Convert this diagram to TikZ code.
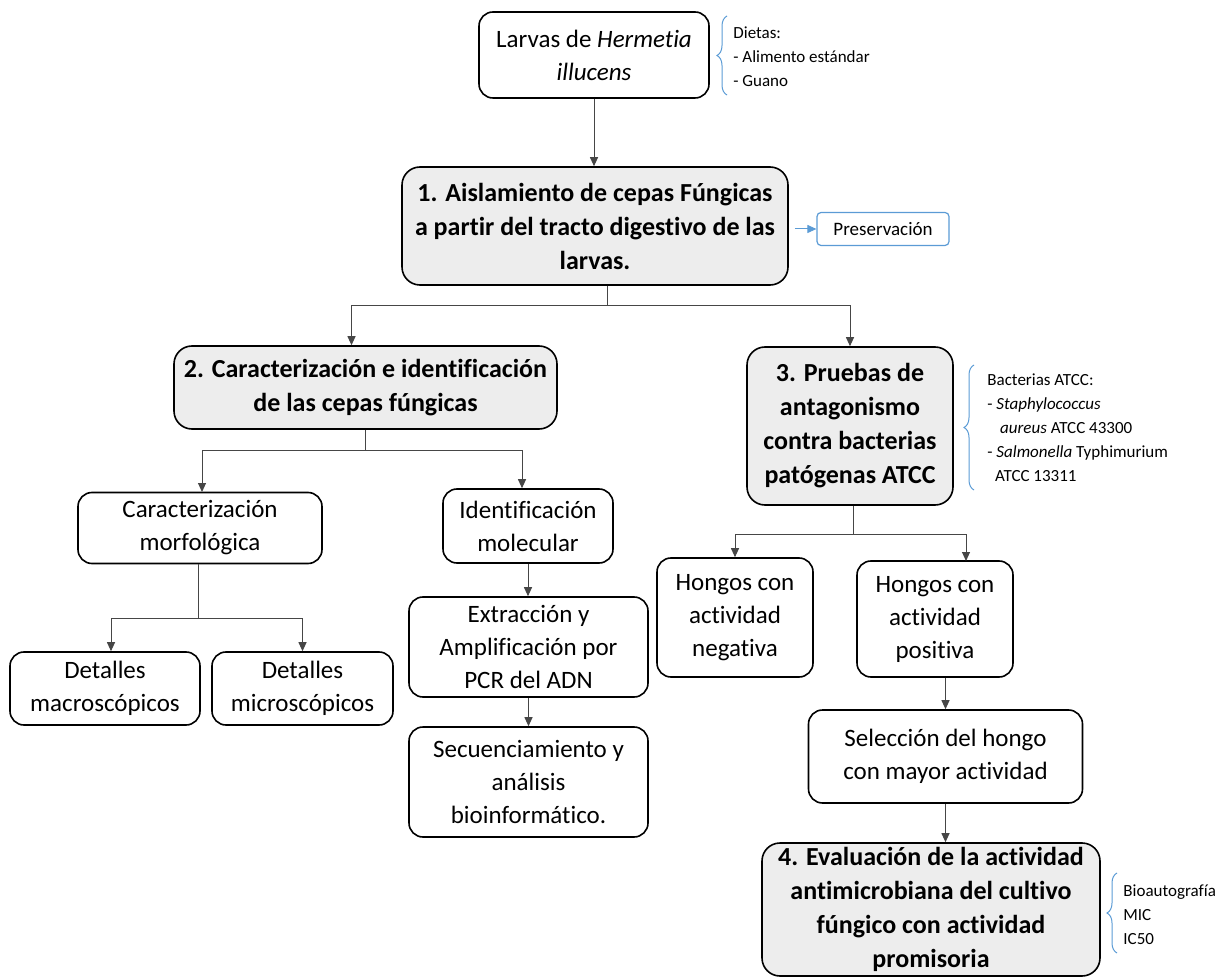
\documentclass[tikz,border=0pt]{standalone}
\usepackage{fontspec}
\setmainfont{Carlito}[Ligatures={NoCommon}]
\usetikzlibrary{arrows.meta,decorations.pathreplacing}
\definecolor{azul}{RGB}{91,155,213}
\definecolor{grisfondo}{RGB}{237,237,237}
\definecolor{linea}{RGB}{70,70,70}
\tikzset{
  caja/.style={draw,line width=0.8pt,rounded corners=7pt,align=center,inner sep=0pt,
    font=\fontsize{12.5}{16.5}\selectfont},
  etapa/.style={caja,fill=grisfondo,rounded corners=9pt,
    font=\fontsize{13}{17}\selectfont\bfseries},
  nota/.style={draw=azul,line width=0.6pt,rounded corners=2pt,inner sep=0pt,
    font=\fontsize{9.5}{11}\selectfont},
  lista/.style={align=left,inner sep=0pt,anchor=west,font=\fontsize{8.5}{12}\selectfont},
  linea/.style={draw=linea,line width=0.5pt},
  flecha/.style={linea,-{Triangle[length=4.5pt,width=4pt]}},
  llave/.style={draw=azul,line width=0.5pt,decorate,decoration={brace,amplitude=5pt}}
}
\begin{document}
\begin{tikzpicture}[x=0.5pt,y=-0.5pt]
\useasboundingbox (0,0) rectangle (1226,978);
% cajas
\node[caja,minimum width=115pt,minimum height=43pt] (larvas) at (594,55) {Larvas de \textit{Hermetia}\\\textit{illucens}};
\node[etapa,minimum width=193pt,minimum height=59pt] (aisl) at (595,226) {1. Aislamiento de cepas Fúngicas\\a partir del tracto digestivo de las\\larvas.};
\node[nota,minimum width=66pt,minimum height=16.5pt] (pres) at (883,229) {Preservación};
\node[etapa,minimum width=191.5pt,minimum height=41.5pt] (carac) at (365.5,387.5) {2. Caracterización e identificación\\de las cepas fúngicas};
\node[etapa,minimum width=103pt,minimum height=79pt] (antag) at (850,426) {3. Pruebas de\\antagonismo\\contra bacterias\\patógenas ATCC};
\node[caja,minimum width=122pt,minimum height=35.5pt] (morfo) at (200,528) {Caracterización\\morfológica};
\node[caja,minimum width=85pt,minimum height=37pt] (molec) at (528,526) {Identificación\\molecular};
\node[caja,minimum width=95pt,minimum height=36.5pt] (macro) at (105,688.5) {Detalles\\macroscópicos};
\node[caja,minimum width=90.5pt,minimum height=36.5pt] (micro) at (302.5,688.5) {Detalles\\microscópicos};
\node[caja,minimum width=119.5pt,minimum height=50pt] (pcr) at (528.5,647) {Extracción y\\Amplificación por\\PCR del ADN};
\node[caja,minimum width=119.5pt,minimum height=55pt] (secu) at (528.5,782) {Secuenciamiento y\\análisis\\bioinformático.};
\node[caja,minimum width=78pt,minimum height=59.5pt] (neg) at (735,617.5) {Hongos con\\actividad\\negativa};
\node[caja,minimum width=78pt,minimum height=58pt] (pos) at (935,619) {Hongos con\\actividad\\positiva};
\node[caja,minimum width=137pt,minimum height=46.5pt] (selec) at (945.5,756.5) {Selección del hongo\\con mayor actividad};
\node[etapa,minimum width=169pt,minimum height=66.5pt] (evalu) at (931,909.5) {4. Evaluación de la actividad\\antimicrobiana del cultivo\\fúngico con actividad\\promisoria};
% notas con llave
\node[lista] (dieta) at (733,57) {Dietas:\\- Alimento estándar\\- Guano};
\draw[llave] (727,95) -- (727,16);
\node[lista] (bact) at (987,428) {Bacterias ATCC:\\- \textit{Staphylococcus}\\\hspace*{0.75em}\textit{aureus} ATCC 43300\\- \textit{Salmonella} Typhimurium\\\hspace*{0.45em}ATCC 13311};
\draw[llave] (974,490) -- (974,365);
\node[lista] (bio) at (1123,915) {Bioautografía\\MIC\\IC50};
\draw[llave] (1117,953) -- (1117,873);
% conectores
\draw[flecha] (larvas.south) -- (larvas.south |- aisl.north);
\draw[flecha,draw=azul] ([xshift=3pt]aisl.east |- pres.west) -- (pres.west);
\coordinate (j1) at (607,306);
\draw[linea] (j1 |- aisl.south) -- (j1);
\draw[flecha] (j1) -| ([xshift=-7pt]carac.north);
\draw[flecha] (j1) -| (antag.north);
\coordinate (j2) at (365.5,451);
\draw[linea] (carac.south) -- (j2);
\draw[flecha] (j2) -| (202,492);
\draw[flecha] (j2) -| ([xshift=-3pt]molec.north);
\coordinate (j3) at (198,618);
\draw[linea] (j3 |- morfo.south) -- (j3);
\draw[flecha] (j3) -| ([xshift=3pt]macro.north);
\draw[flecha] (j3) -| (micro.north);
\draw[flecha] (molec.south) -- (molec.south |- pcr.north);
\draw[flecha] (pcr.south) -- (pcr.south |- secu.north);
\coordinate (j4) at (853,534);
\draw[linea] (j4 |- antag.south) -- (j4);
\draw[flecha] (j4) -| (neg.north);
\draw[flecha] (j4) -| (966,561);
\draw[flecha] (selec.north |- pos.south) -- (selec.north);
\draw[flecha] (selec.south) -- (selec.south |- evalu.north);
\end{tikzpicture}
\end{document}
